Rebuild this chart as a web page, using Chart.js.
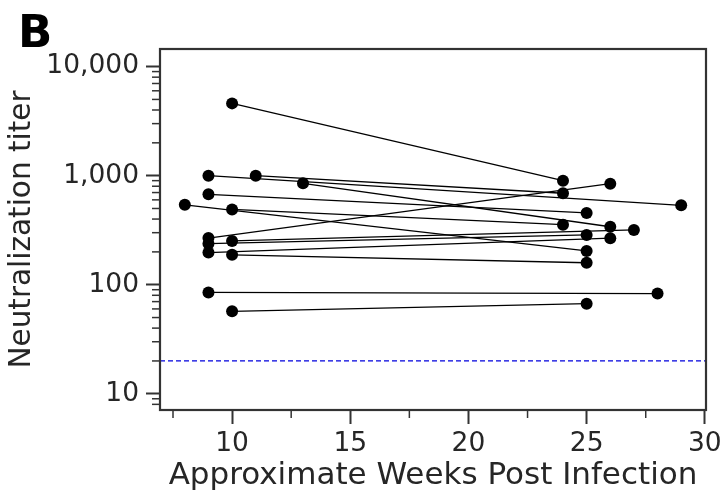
<!DOCTYPE html>
<html>
<head>
<meta charset="utf-8">
<script src="https://cdn.jsdelivr.net/npm/chart.js@4/dist/chart.umd.min.js"></script>
<style>
  body { margin: 0; background: #fff; }
  #wrap { width: 721px; height: 497px; }
</style>
</head>
<body>
<div id="wrap"><canvas id="myChart"></canvas></div>
<script>
// each subject: early sample -> late sample
const earlyWeeks = [10, 9, 11, 13, 9, 8, 10, 9, 9, 10, 9, 10, 9, 10];
const earlyTiter = [4600, 1000, 1000, 850, 675, 540, 490, 268, 238, 252, 197, 188, 85, 57];
const lateWeeks = [24, 29, 24, 26, 25, 25, 24, 26, 25, 27, 26, 25, 28, 25];
const lateTiter = [900, 535, 690, 340, 455, 204, 355, 845, 286, 318, 267, 159, 83, 67];

const limitOfDetection = 20;
const xRange = [6.95, 30.05];
const yRange = [7.1, 14500];
const xMajorTicks = [10, 15, 20, 25, 30];
const xMinorTicks = [7.5, 12.5, 17.5, 22.5, 27.5];
const yDecades = [10, 100, 1000, 10000];

const ink = '#262626';
const spine = '#333333';
const fontFamily = '"DejaVu Sans", sans-serif';

let datasets = [];
for (let i = 0; i < earlyWeeks.length; i++) {
    datasets.push({
        data: [{x: earlyWeeks[i], y: earlyTiter[i]}, {x: lateWeeks[i], y: lateTiter[i]}],
        showLine: true,
        borderColor: '#000',
        borderWidth: 1.3,
        backgroundColor: '#000',
        pointBackgroundColor: '#000',
        pointBorderWidth: 0,
        pointRadius: 6
    });
}
datasets.push({
    data: [{x: xRange[0], y: limitOfDetection}, {x: xRange[1], y: limitOfDetection}],
    showLine: true,
    borderColor: '#0000dd',
    borderWidth: 1.2,
    borderDash: [5, 3],
    pointRadius: 0
});

function yTicks() {
    let out = [];
    for (let d = 1; d <= 10000; d *= 10) {
        for (let m = 1; m < 10; m++) {
            let v = d * m;
            if (v > yRange[0] && v <= 10000) out.push({value: v, major: yDecades.includes(v)});
        }
    }
    return out;
}

// minor tick marks, frame and the panel letter
const decorations = {
    id: 'decorations',
    afterDraw(chart) {
        const {ctx, chartArea: a, scales} = chart;
        ctx.save();
        ctx.strokeStyle = spine;
        ctx.lineWidth = 1.5;
        scales.x.ticks.forEach(t => {
            if (t.major) return;
            let px = scales.x.getPixelForValue(t.value);
            ctx.beginPath();
            ctx.moveTo(px, a.bottom);
            ctx.lineTo(px, a.bottom + 8);
            ctx.stroke();
        });
        scales.y.ticks.forEach(t => {
            if (t.major) return;
            let py = scales.y.getPixelForValue(t.value);
            ctx.beginPath();
            ctx.moveTo(a.left - 8, py);
            ctx.lineTo(a.left, py);
            ctx.stroke();
        });
        ctx.lineWidth = 2.2;
        ctx.strokeRect(a.left, a.top, a.right - a.left, a.bottom - a.top);
        ctx.fillStyle = '#000';
        ctx.font = 'bold 45px "DejaVu Sans"';
        ctx.textBaseline = 'alphabetic';
        ctx.fillText('B', 18, 47);
        ctx.restore();
    }
};

let ctx = document.getElementById('myChart').getContext('2d');
let myChart = new Chart(ctx, {
    type: 'scatter',
    data: {datasets: datasets},
    options: {
        responsive: true,
        maintainAspectRatio: false,
        animation: false,
        layout: {padding: {top: 49, right: 15, left: 0, bottom: 0}},
        plugins: {legend: {display: false}, tooltip: {enabled: false}},
        scales: {
            x: {
                type: 'linear',
                min: xRange[0],
                max: xRange[1],
                afterBuildTicks: axis => {
                    axis.ticks = xMinorTicks.map(v => ({value: v, major: false}))
                        .concat(xMajorTicks.map(v => ({value: v, major: true})))
                        .sort((p, q) => p.value - q.value);
                },
                afterFit: scale => {
                    scale.height = 87;
                    scale.paddingRight = 0;
                },
                border: {display: false},
                grid: {
                    drawOnChartArea: false,
                    tickLength: 14,
                    tickWidth: 2,
                    tickColor: c => (c.tick && c.tick.major ? spine : 'transparent')
                },
                ticks: {
                    autoSkip: false,
                    maxRotation: 0,
                    padding: 4,
                    color: ink,
                    font: {family: fontFamily, size: 26.5},
                    callback: (v) => (xMajorTicks.includes(v) ? String(v) : '')
                },
                title: {
                    display: true,
                    text: 'Approximate Weeks Post Infection',
                    color: ink,
                    font: {family: fontFamily, size: 31},
                    padding: {top: 0, bottom: 2}
                }
            },
            y: {
                type: 'logarithmic',
                min: yRange[0],
                max: yRange[1],
                afterBuildTicks: axis => { axis.ticks = yTicks(); },
                afterFit: scale => { scale.width = 160; },
                border: {display: false},
                grid: {
                    drawOnChartArea: false,
                    tickLength: 14,
                    tickWidth: 2,
                    tickColor: c => (c.tick && c.tick.major ? spine : 'transparent')
                },
                ticks: {
                    autoSkip: false,
                    padding: 7,
                    color: ink,
                    font: {family: fontFamily, size: 26.5},
                    callback: (v) => (yDecades.includes(v) ? v.toLocaleString('en-US') : '')
                },
                title: {
                    display: true,
                    text: 'Neutralization titer',
                    color: ink,
                    font: {family: fontFamily, size: 29.5},
                    padding: {top: 5, bottom: 0}
                }
            }
        }
    },
    plugins: [decorations]
});
</script>
</body>
</html>
